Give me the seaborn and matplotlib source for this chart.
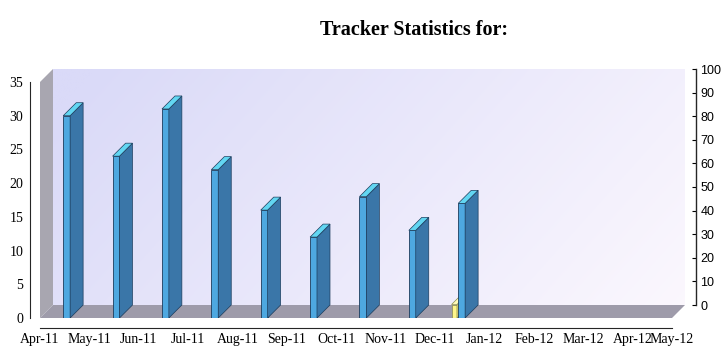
import numpy as np
import pandas as pd
import matplotlib
matplotlib.use("Agg")
import matplotlib.pyplot as plt
import seaborn as sns
from matplotlib.patches import Polygon
from matplotlib.transforms import IdentityTransform

# data
month_labels = ["Apr-11", "May-11", "Jun-11", "Jul-11", "Aug-11", "Sep-11", "Oct-11",
                "Nov-11", "Dec-11", "Jan-12", "Feb-12", "Mar-12", "Apr-12", "May-12"]
bar_months = ["Apr-11", "May-11", "Jun-11", "Jul-11", "Aug-11", "Sep-11", "Oct-11",
              "Nov-11", "Dec-11"]
visits = [30, 24, 31, 22, 16, 12, 18, 13, 17]
second = [0, 0, 0, 0, 0, 0, 0, 0, 2]
left_ticks = [0, 5, 10, 15, 20, 25, 30, 35]
right_ticks = [0, 10, 20, 30, 40, 50, 60, 70, 80, 90, 100]

sns.set_style("white")
plt.rcParams["font.family"] = ["Liberation Serif", "DejaVu Serif"]
plt.rcParams["text.color"] = "black"

W, H = 721, 351
DX, DY = 13, 13  # fake 3d depth in pixels

def box(l, t, r, b):
    return [l / W, 1 - b / H, (r - l) / W, (b - t) / H]

fig = plt.figure(figsize=(W / 100, H / 100), dpi=100)
back = fig.add_axes(box(40 + DX, 82 - DY, 672 + DX, 318 - DY))
ax = fig.add_axes(box(40, 82, 672, 318))

# back wall gradient
gx, gy = np.meshgrid(np.linspace(0, 1, 300), np.linspace(0, 1, 120))
g = np.clip(0.75 * gx - 0.25 * gy + 0.2, 0, 1)
c0 = np.array([218, 218, 248]) / 255
c1 = np.array([253, 249, 254]) / 255
img = c0 + (c1 - c0) * g[..., None]
back.imshow(img, extent=[0, 1, 0, 1], aspect="auto", origin="lower")
back.set_xlim(0, 1)
back.set_ylim(0, 1)
back.set_xticks([])
back.set_yticks([])
for s in back.spines.values():
    s.set_visible(False)

rax = back.twinx()
rax.set_ylim(0, 100)
rax.set_yticks(right_ticks)
rax.set_yticklabels([str(t) for t in right_ticks])
for k in ["top", "left", "bottom"]:
    rax.spines[k].set_visible(False)
rax.spines["right"].set_position(("outward", 8))
rax.spines["right"].set_linewidth(1.0)
rax.tick_params(axis="y", direction="in", length=3, pad=3, colors="black",
                labelsize=9, labelfontfamily="Liberation Sans")

# front plane
ax.set_facecolor("none")
ax.set_zorder(2)

pos_blue = [i + 0.54 for i in range(len(bar_months))]
pos_yel = [i + 0.39 for i in range(len(bar_months))]
df_b = pd.DataFrame({"x": pos_blue, "v": visits})
df_y = pd.DataFrame({"x": pos_yel, "v": second})
df_y = df_y[df_y["v"] > 0]

sns.barplot(data=df_y, x="x", y="v", native_scale=True, width=0.11, color="#fff68a",
            saturation=1, edgecolor="#8a8a50", linewidth=0.5, errorbar=None, ax=ax, zorder=3)
n_y = len(ax.patches)
sns.barplot(data=df_b, x="x", y="v", native_scale=True, width=0.14, color="#4ea8e0",
            saturation=1, edgecolor="#1c3c5c", linewidth=0.6, errorbar=None, ax=ax, zorder=5)

ax.set_xlim(0, 12.8)
ax.set_ylim(0, 35)
ax.set_xticks(list(range(13)) + [12.8])
ax.set_xticklabels(month_labels, fontsize=10)
ax.set_yticks(left_ticks)
ax.set_yticklabels([str(t) for t in left_ticks], fontsize=10)
ax.set_xlabel("")
ax.set_ylabel("")
ax.spines["top"].set_visible(False)
ax.spines["right"].set_visible(False)
ax.spines["left"].set_position(("outward", 7))
ax.spines["bottom"].set_position(("outward", 7))
ax.tick_params(axis="x", direction="in", length=4, pad=4, color="#888888", labelcolor="black")
ax.tick_params(axis="y", direction="out", length=3, pad=2, color="black", labelcolor="black")

# left wall and floor from the plane corners
bb = ax.get_position()
l, r = bb.x0 * W, bb.x1 * W
b, t = bb.y0 * H, bb.y1 * H
wall = Polygon([(l, b), (l, t), (l + DX, t + DY), (l + DX, b + DY)], closed=True,
               transform=IdentityTransform(), facecolor="#a8a6b0", edgecolor="none", zorder=1, clip_on=False)
floor = Polygon([(l, b), (r, b), (r + DX, b + DY), (l + DX, b + DY)], closed=True,
                transform=IdentityTransform(), facecolor="#9e9baa", edgecolor="none", zorder=1, clip_on=False)
ax.add_patch(wall)
ax.add_patch(floor)

# side and top faces of each bar
faces = [("#e6da70", "#fffbb8", "#8a8a50", 3)] * n_y
faces += [("#3a76a8", "#62d6f2", "#1c3c5c", 5)] * (len(ax.patches) - n_y - 2)
bars = [p for p in ax.patches if p not in (wall, floor)]
for p, (side_c, top_c, ec, z) in zip(bars, faces):
    x0, x1 = p.get_x(), p.get_x() + p.get_width()
    h = p.get_height()
    if h <= 0:
        continue
    (ax0, ay0), (ax1, ay1) = ax.transData.transform([(x0, 0), (x1, h)])
    side = Polygon([(ax1, ay0), (ax1, ay1), (ax1 + DX, ay1 + DY), (ax1 + DX, ay0 + DY)],
                   transform=IdentityTransform(), facecolor=side_c, edgecolor=ec, linewidth=0.5, zorder=z)
    top = Polygon([(ax0, ay1), (ax1, ay1), (ax1 + DX, ay1 + DY), (ax0 + DX, ay1 + DY)],
                  transform=IdentityTransform(), facecolor=top_c, edgecolor=ec, linewidth=0.5, zorder=z)
    ax.add_patch(side)
    ax.add_patch(top)

fig.text(414 / W, 1 - 30 / H, "Tracker Statistics for:", ha="center", va="center",
         fontsize=14.5, fontweight="bold", color="black")

fig.savefig("out.png", dpi=100)
